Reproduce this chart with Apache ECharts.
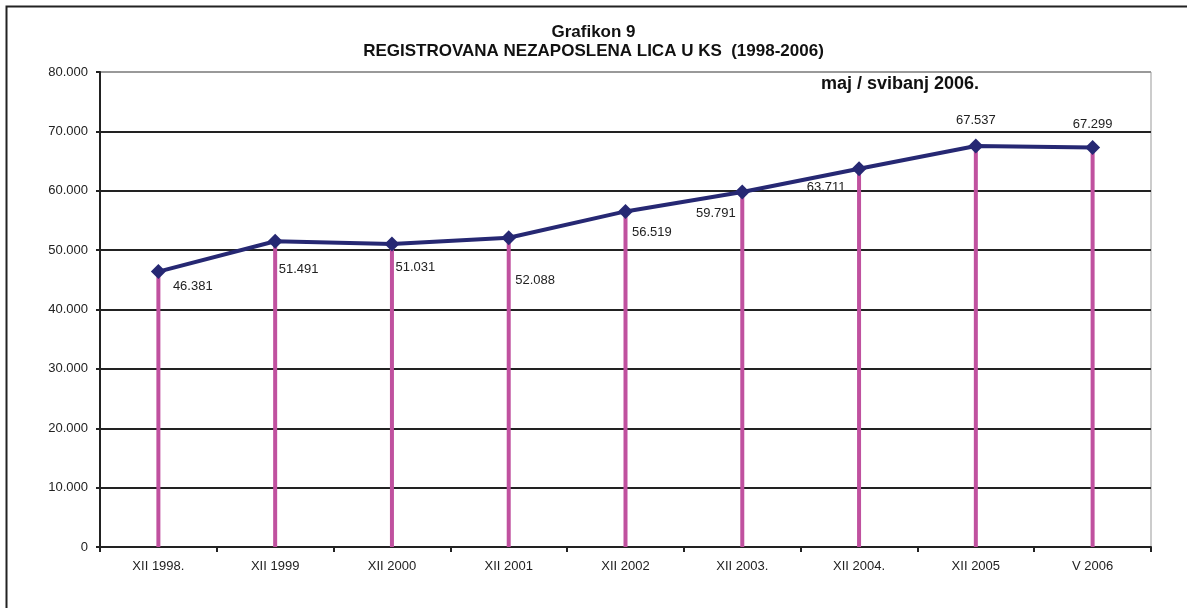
<!DOCTYPE html>
<html>
<head>
<meta charset="utf-8">
<script src="https://cdn.jsdelivr.net/npm/echarts@6/dist/echarts.min.js"></script>
<style>
  html, body { margin: 0; padding: 0; background: #fff; }
  #chart { width: 1187px; height: 608px; }
</style>
</head>
<body>
<div id="chart"></div>
<script>
// podaci
var categories = ['XII 1998.', 'XII 1999', 'XII 2000', 'XII 2001', 'XII 2002', 'XII 2003.', 'XII 2004.', 'XII 2005', 'V 2006']
var values = [46381, 51491, 51031, 52088, 56519, 59791, 63711, 67537, 67299]
// label placement per point (position, offset)
var labelPos = ['right', 'right', 'right', 'right', 'right', 'left', 'left', 'top', 'top']
var labelOffset = [[2, 15], [-9, 28], [-9, 23], [-6, 43], [-6, 21], [6, 21], [-1, 19], [0, -7], [0, -4]]

function fmt(v) {
  return String(v).replace(/\B(?=(\d{3})+(?!\d))/g, '.')
}

var chart = echarts.init(document.getElementById('chart'))

var lineData = values.map(function(v, i) {
  return {
    value: v,
    label: { position: labelPos[i], offset: labelOffset[i] }
  }
})

var gridColors = ['#222', '#222', '#222', '#222', '#222', '#222', '#222', '#222', '#999']

chart.setOption({
  animation: false,
  textStyle: { fontFamily: 'Arial, "Liberation Sans", sans-serif' },
  graphic: [{
    type: 'rect',
    left: 4,
    top: 4,
    shape: { width: 1220, height: 700 },
    style: { fill: 'none', stroke: '#222', lineWidth: 2 },
    silent: true
  }],
  title: [
    {
      text: 'Grafikon 9',
      left: 'center',
      top: 19,
      textStyle: { fontSize: 17, fontWeight: 'bold', color: '#111' }
    },
    {
      text: 'REGISTROVANA NEZAPOSLENA LICA U KS  (1998-2006)',
      left: 'center',
      top: 38,
      textStyle: { fontSize: 17, fontWeight: 'bold', color: '#111' }
    },
    {
      text: 'maj / svibanj 2006.',
      left: 816,
      top: 70,
      textStyle: { fontSize: 18, fontWeight: 'bold', color: '#111' }
    }
  ],
  grid: {
    left: 100,
    top: 72,
    right: 36,
    bottom: 61,
    show: true,
    borderColor: '#999',
    borderWidth: 1
  },
  xAxis: {
    type: 'category',
    data: categories,
    boundaryGap: true,
    axisLine: { lineStyle: { color: '#222', width: 2 } },
    axisTick: { show: true, length: 5, lineStyle: { color: '#222', width: 2 } },
    axisLabel: { color: '#222', fontSize: 13, margin: 13 }
  },
  yAxis: {
    type: 'value',
    min: 0,
    max: 80000,
    interval: 10000,
    axisLine: { show: true, lineStyle: { color: '#222', width: 2 } },
    axisTick: { show: true, length: 4, lineStyle: { color: '#222', width: 2 } },
    axisLabel: {
      color: '#222',
      fontSize: 13,
      margin: 12,
      formatter: function(v) { return fmt(v) }
    },
    splitLine: { show: true, lineStyle: { color: gridColors, width: 2 } }
  },
  series: [
    {
      type: 'bar',
      data: values,
      barWidth: 4,
      itemStyle: { color: '#C0519F' },
      z: 2
    },
    {
      type: 'line',
      data: lineData,
      symbol: 'diamond',
      symbolSize: 15,
      lineStyle: { color: '#262873', width: 4 },
      itemStyle: { color: '#262873' },
      label: {
        show: true,
        color: '#222',
        fontSize: 13,
        distance: 5,
        formatter: function(p) { return fmt(p.value) }
      },
      z: 3
    }
  ]
})
</script>
</body>
</html>
